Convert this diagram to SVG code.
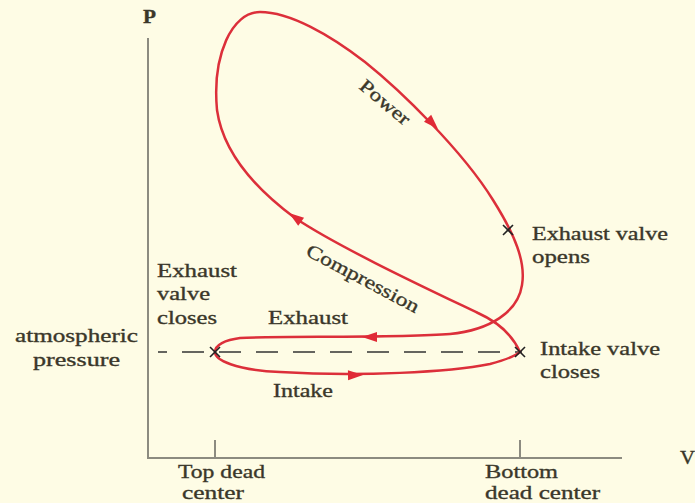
<svg xmlns="http://www.w3.org/2000/svg" width="695" height="503" viewBox="0 0 695 503">
<style>
  text { font-family: "Liberation Serif", "Times New Roman", serif; font-size: 19px; fill: #3a372a; stroke: #3a372a; stroke-width: 0.35; }
  .axis { stroke: #8c8b80; stroke-width: 2; fill: none; }
  .cycle { stroke: #dc2f3a; stroke-width: 2.5; fill: none; }
  .arrow { fill: #e02a36; }
  .cross { stroke: #222; stroke-width: 1.6; }
  .dash { stroke: #333; stroke-width: 1.4; stroke-dasharray: 22 15; }
</style>
<defs>
  <polygon id="ah" points="0,0 -15,-5 -15,5"/>
</defs>
<rect width="695" height="503" fill="#fefce5"/>

<g id="axes">
  <line class="axis" x1="148" y1="38" x2="148" y2="459"/>
  <line class="axis" x1="147" y1="458" x2="622" y2="458"/>
  <line class="axis" x1="215" y1="440" x2="215" y2="458"/>
  <line class="axis" x1="520" y1="440" x2="520" y2="458"/>
  <text x="143" y="23" font-weight="bold" textLength="13" lengthAdjust="spacingAndGlyphs">P</text>
  <text x="680" y="464" textLength="15" lengthAdjust="spacingAndGlyphs">V</text>
</g>

<g id="atm-line">
  <line class="dash" x1="158" y1="352" x2="522" y2="352" stroke-dashoffset="13"/>
  <text x="15" y="342" textLength="123" lengthAdjust="spacingAndGlyphs">atmospheric</text>
  <text x="33" y="366" textLength="87" lengthAdjust="spacingAndGlyphs">pressure</text>
</g>

<g id="connectors">
  <path class="cycle" d="M520,352 C512,334 498,322 478,313 C430,290 340,248 295,218 C268,198 224,160 217,110 C212,55 232,12 260,12 C290,12 330,35 365,62 C400,90 462,150 493,200 C515,235 526,262 522,285 C518,312 490,330 450,334 C400,338 280,336 240,338 C225,340 215,345 215,352 C215,360 235,370 280,372 C360,377 450,372 490,364 C505,360 515,356 520,352 Z"/>
  <use href="#ah" class="arrow" transform="translate(438,129) rotate(46)"/>
  <use href="#ah" class="arrow" transform="translate(289,213) rotate(-144)"/>
  <use href="#ah" class="arrow" transform="translate(362,337) rotate(180)"/>
  <use href="#ah" class="arrow" transform="translate(363,375) rotate(-1)"/>
</g>

<g id="cycle-labels">
  <text x="381" y="107" text-anchor="middle" transform="rotate(40 381 107)" textLength="60" lengthAdjust="spacingAndGlyphs">Power</text>
  <text x="360" y="284" text-anchor="middle" transform="rotate(28 360 284)" textLength="125" lengthAdjust="spacingAndGlyphs">Compression</text>
  <text x="268" y="324" textLength="80" lengthAdjust="spacingAndGlyphs">Exhaust</text>
  <text x="273" y="397" textLength="60" lengthAdjust="spacingAndGlyphs">Intake</text>
</g>

<g id="exhaust-valve-opens">
  <g class="cross"><line x1="503" y1="225" x2="513" y2="235"/><line x1="503" y1="235" x2="513" y2="225"/></g>
  <text x="532" y="240" textLength="136" lengthAdjust="spacingAndGlyphs">Exhaust valve</text>
  <text x="532" y="263" textLength="58" lengthAdjust="spacingAndGlyphs">opens</text>
</g>

<g id="intake-valve-closes">
  <g class="cross"><line x1="515" y1="347" x2="525" y2="357"/><line x1="515" y1="357" x2="525" y2="347"/></g>
  <text x="540" y="355" textLength="120" lengthAdjust="spacingAndGlyphs">Intake valve</text>
  <text x="540" y="378" textLength="60" lengthAdjust="spacingAndGlyphs">closes</text>
</g>

<g id="exhaust-valve-closes">
  <g class="cross"><line x1="210" y1="347" x2="220" y2="357"/><line x1="210" y1="357" x2="220" y2="347"/></g>
  <text x="157" y="277" textLength="80" lengthAdjust="spacingAndGlyphs">Exhaust</text>
  <text x="157" y="300" textLength="53" lengthAdjust="spacingAndGlyphs">valve</text>
  <text x="157" y="324" textLength="60" lengthAdjust="spacingAndGlyphs">closes</text>
</g>

<g id="top-dead-center">
  <text x="178" y="478" textLength="87" lengthAdjust="spacingAndGlyphs">Top dead</text>
  <text x="182" y="499" textLength="62" lengthAdjust="spacingAndGlyphs">center</text>
</g>

<g id="bottom-dead-center">
  <text x="485" y="478" textLength="73" lengthAdjust="spacingAndGlyphs">Bottom</text>
  <text x="485" y="499" textLength="115" lengthAdjust="spacingAndGlyphs">dead center</text>
</g>
</svg>
